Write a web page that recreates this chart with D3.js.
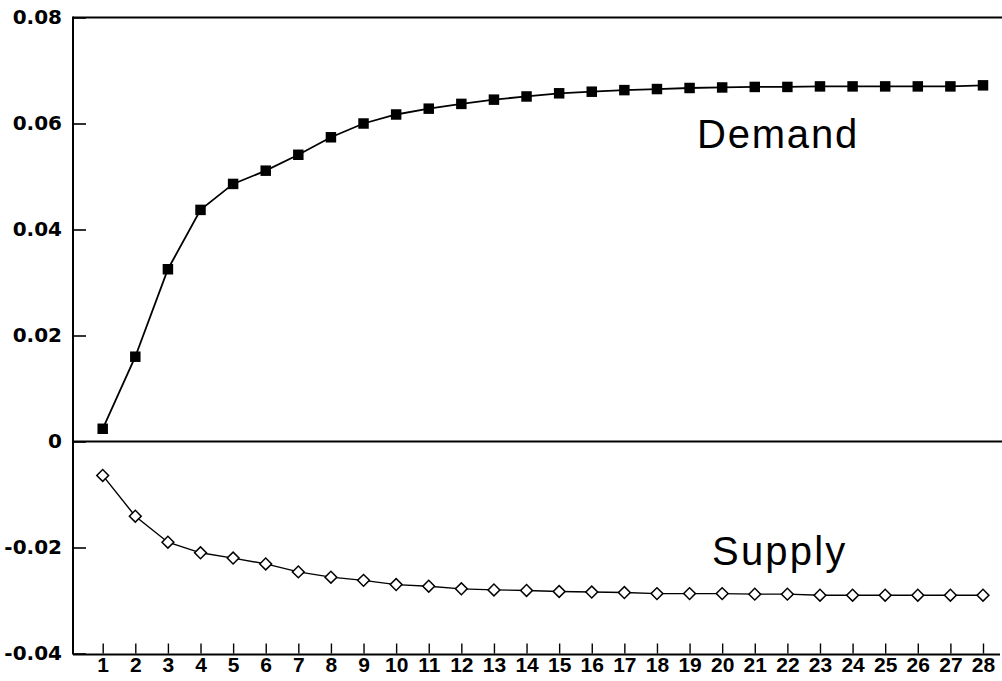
<!DOCTYPE html>
<html>
<head>
<meta charset="utf-8">
<script src="https://cdn.jsdelivr.net/npm/d3@7"></script>
<style>
  html, body { margin: 0; padding: 0; background: #fff; }
  svg { display: block; }
</style>
</head>
<body>
<svg id="chart" width="1002" height="681"></svg>
<script>
const periods = [1,2,3,4,5,6,7,8,9,10,11,12,13,14,15,16,17,18,19,20,21,22,23,24,25,26,27,28];
const demand = [0.0024, 0.0160, 0.0325, 0.0437, 0.0486, 0.0511, 0.0541, 0.0574, 0.0600, 0.0617,
                0.0628, 0.0637, 0.0645, 0.0651, 0.0657, 0.0660, 0.0663, 0.0665, 0.0667, 0.0668,
                0.0669, 0.0669, 0.0670, 0.0670, 0.0670, 0.0670, 0.0670, 0.0672];
const supply = [-0.0064, -0.0141, -0.0190, -0.0210, -0.0220, -0.0231, -0.0246, -0.0256, -0.0262, -0.0270,
                -0.0273, -0.0278, -0.0280, -0.0281, -0.0283, -0.0284, -0.0285, -0.0287, -0.0287, -0.0287,
                -0.0288, -0.0288, -0.0290, -0.0290, -0.0290, -0.0290, -0.0290, -0.0290];
const yTicks = [0.08, 0.06, 0.04, 0.02, 0, -0.02, -0.04];
const yTickLabels = ["0.08", "0.06", "0.04", "0.02", "0", "-0.02", "-0.04"];
const seriesLabels = ["Demand", "Supply"];

const svg = d3.select("#chart");
const mLeft = 73, mRight = 1002, mTop = 17.5, mBottom = 653.5;

const x = d3.scaleLinear().domain([1, 28]).range([102.7, 983]);
const y = d3.scaleLinear().domain([-0.04, 0.08]).range([mBottom, mTop]);

// Y axis (labels + inward ticks)
const yAxis = d3.axisLeft(y)
  .tickValues(yTicks)
  .tickSize(-13)
  .tickSizeOuter(0)
  .tickPadding(11)
  .tickFormat((d, i) => yTickLabels[i]);
const gy = svg.append("g").attr("transform", `translate(${mLeft},0)`).call(yAxis);
gy.select(".domain").remove();
gy.selectAll(".tick line").attr("stroke", "#000").attr("stroke-width", 1.6);
gy.selectAll(".tick text")
  .attr("fill", "#000")
  .style("font-family", "'DejaVu Sans', sans-serif")
  .style("font-weight", "bold")
  .style("font-size", "20px");

// X axis (labels + upward ticks)
const xAxis = d3.axisBottom(x)
  .tickValues(periods)
  .tickSize(-10)
  .tickSizeOuter(0)
  .tickPadding(4)
  .tickFormat(d3.format("d"));
const gx = svg.append("g").attr("transform", `translate(0,${mBottom})`).call(xAxis);
gx.select(".domain").remove();
gx.selectAll(".tick line").attr("stroke", "#000").attr("stroke-width", 1.4);
gx.selectAll(".tick text")
  .attr("fill", "#000")
  .style("font-family", "'Liberation Sans', Arial, sans-serif")
  .style("font-weight", "bold")
  .style("font-size", "21px");

// Frame lines
svg.append("line").attr("x1", mLeft).attr("x2", mLeft).attr("y1", y(0.08) - 1).attr("y2", mBottom + 1)
  .attr("stroke", "#000").attr("stroke-width", 2);
svg.append("line").attr("x1", mLeft).attr("x2", mRight).attr("y1", y(0.08)).attr("y2", y(0.08))
  .attr("stroke", "#000").attr("stroke-width", 2.2);
svg.append("line").attr("x1", mLeft).attr("x2", mRight).attr("y1", y(0)).attr("y2", y(0))
  .attr("stroke", "#000").attr("stroke-width", 2.2);
svg.append("line").attr("x1", mLeft).attr("x2", 1000).attr("y1", mBottom + 1).attr("y2", mBottom + 1)
  .attr("stroke", "#000").attr("stroke-width", 2);

// Lines
const lineGen = d3.line().x((d, i) => x(periods[i])).y(d => y(d));
svg.append("path").datum(demand).attr("d", lineGen)
  .attr("fill", "none").attr("stroke", "#000").attr("stroke-width", 1.8);
svg.append("path").datum(supply).attr("d", lineGen)
  .attr("fill", "none").attr("stroke", "#000").attr("stroke-width", 1.4);

// Demand markers: filled squares
svg.append("g").selectAll("path").data(demand).join("path")
  .attr("transform", (d, i) => `translate(${x(periods[i])},${y(d)})`)
  .attr("d", d3.symbol(d3.symbolSquare, 110))
  .attr("fill", "#000");

// Supply markers: hollow diamonds
svg.append("g").selectAll("path").data(supply).join("path")
  .attr("transform", (d, i) => `translate(${x(periods[i])},${y(d)}) rotate(45)`)
  .attr("d", d3.symbol(d3.symbolSquare, 70))
  .attr("fill", "#fff").attr("stroke", "#000").attr("stroke-width", 1.5);

// Series labels
svg.append("text").attr("x", 697).attr("y", 148).text(seriesLabels[0])
  .style("font-family", "'Liberation Sans', Arial, sans-serif")
  .style("font-size", "40px").style("letter-spacing", "1.8px").attr("fill", "#000");
svg.append("text").attr("x", 712).attr("y", 565).text(seriesLabels[1])
  .style("font-family", "'Liberation Sans', Arial, sans-serif")
  .style("font-size", "40px").style("letter-spacing", "2.2px").attr("fill", "#000");
</script>
</body>
</html>
